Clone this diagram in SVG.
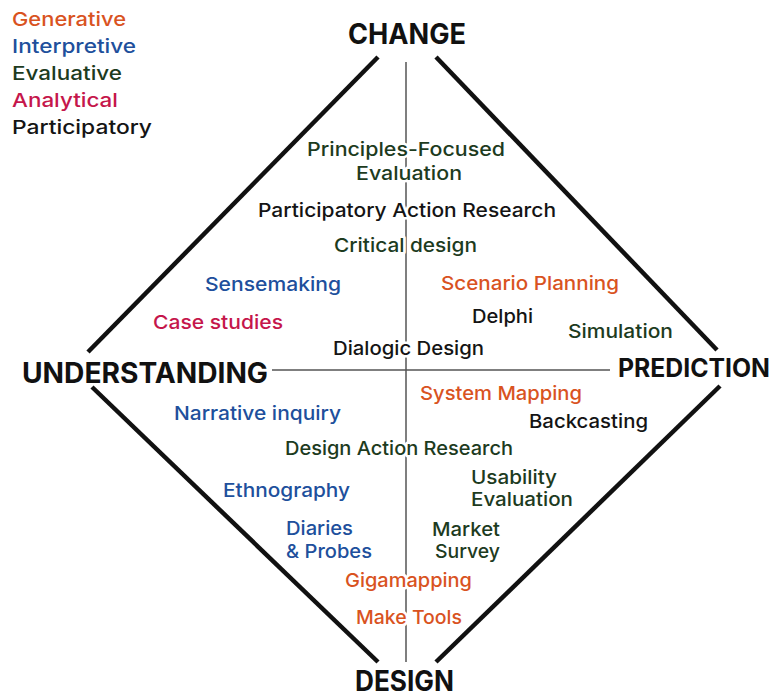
<svg xmlns="http://www.w3.org/2000/svg" width="779" height="699" viewBox="0 0 779 699">
<style>
text{font-family:Inter,"Liberation Sans",Arial,sans-serif;font-weight:500;font-size:19px}
.t{font-weight:700;font-size:28px;fill:#111}
.lab{stroke:#fff;stroke-width:5px;stroke-linejoin:round;paint-order:stroke}
.gen{fill:#d9531f}.int{fill:#204f9c}.eva{fill:#1d3b1e}.ana{fill:#c5164b}.par{fill:#141414}
.ax{stroke:#555;stroke-width:1.5;fill:none}
.dia{stroke:#111;stroke-width:4.5;fill:none;stroke-linecap:butt}
</style>
<rect width="779" height="699" fill="#fff"/>
<g id="connectors">
<line class="ax" x1="406" y1="62" x2="406" y2="662"/>
<line class="ax" x1="272" y1="370" x2="610" y2="370"/>
<line class="dia" x1="378" y1="57" x2="88" y2="352"/>
<line class="dia" x1="92" y1="387" x2="378" y2="662"/>
<line class="dia" x1="436" y1="57" x2="717" y2="350"/>
<line class="dia" x1="720" y1="386" x2="436" y2="662"/>
</g>
<g id="legend">
<text class="gen" x="12" y="26" textLength="114" lengthAdjust="spacingAndGlyphs">Generative</text>
<text class="int" x="12" y="53" textLength="124" lengthAdjust="spacingAndGlyphs">Interpretive</text>
<text class="eva" x="12" y="80" textLength="110" lengthAdjust="spacingAndGlyphs">Evaluative</text>
<text class="ana" x="12" y="107" textLength="106" lengthAdjust="spacingAndGlyphs">Analytical</text>
<text class="par" x="12" y="134" textLength="140" lengthAdjust="spacingAndGlyphs">Participatory</text>
</g>
<g id="change"><text class="t" x="348" y="44" textLength="118" lengthAdjust="spacingAndGlyphs">CHANGE</text></g>
<g id="understanding"><text class="t" x="22" y="383" textLength="246" lengthAdjust="spacingAndGlyphs">UNDERSTANDING</text></g>
<g id="prediction"><text class="t" x="618" y="377" style="font-size:25px" textLength="152" lengthAdjust="spacingAndGlyphs">PREDICTION</text></g>
<g id="design"><text class="t" x="355" y="691" textLength="99" lengthAdjust="spacingAndGlyphs">DESIGN</text></g>
<g id="principles-focused-evaluation">
<text class="lab eva" x="307" y="156" textLength="198" lengthAdjust="spacingAndGlyphs">Principles-Focused</text>
<text class="lab eva" x="356" y="180" textLength="106" lengthAdjust="spacingAndGlyphs">Evaluation</text>
</g>
<g id="participatory-action-research"><text class="lab par" x="258" y="217" textLength="298" lengthAdjust="spacingAndGlyphs">Participatory Action Research</text></g>
<g id="critical-design"><text class="lab eva" x="334" y="252" textLength="143" lengthAdjust="spacingAndGlyphs">Critical design</text></g>
<g id="sensemaking"><text class="int" x="205" y="291" textLength="136" lengthAdjust="spacingAndGlyphs">Sensemaking</text></g>
<g id="scenario-planning"><text class="gen" x="441" y="290" textLength="178" lengthAdjust="spacingAndGlyphs">Scenario Planning</text></g>
<g id="case-studies"><text class="ana" x="153" y="329" textLength="130" lengthAdjust="spacingAndGlyphs">Case studies</text></g>
<g id="delphi"><text class="par" x="472" y="323" textLength="61" lengthAdjust="spacingAndGlyphs">Delphi</text></g>
<g id="simulation"><text class="eva" x="568" y="338" textLength="105" lengthAdjust="spacingAndGlyphs">Simulation</text></g>
<g id="dialogic-design"><text class="lab par" x="333" y="355" textLength="151" lengthAdjust="spacingAndGlyphs">Dialogic Design</text></g>
<g id="system-mapping"><text class="gen" x="420" y="400" textLength="162" lengthAdjust="spacingAndGlyphs">System Mapping</text></g>
<g id="narrative-inquiry"><text class="int" x="174" y="420" textLength="167" lengthAdjust="spacingAndGlyphs">Narrative inquiry</text></g>
<g id="backcasting"><text class="par" x="529" y="428" textLength="119" lengthAdjust="spacingAndGlyphs">Backcasting</text></g>
<g id="design-action-research"><text class="lab eva" x="285" y="455" textLength="228" lengthAdjust="spacingAndGlyphs">Design Action Research</text></g>
<g id="usability-evaluation">
<text class="eva" x="471" y="484" textLength="86" lengthAdjust="spacingAndGlyphs">Usability</text>
<text class="eva" x="471" y="506" textLength="102" lengthAdjust="spacingAndGlyphs">Evaluation</text>
</g>
<g id="ethnography"><text class="int" x="223" y="497" textLength="127" lengthAdjust="spacingAndGlyphs">Ethnography</text></g>
<g id="diaries-probes">
<text class="int" x="286" y="535" textLength="67" lengthAdjust="spacingAndGlyphs">Diaries</text>
<text class="int" x="286" y="558" textLength="86" lengthAdjust="spacingAndGlyphs">&amp; Probes</text>
</g>
<g id="market-survey">
<text class="eva" x="432" y="536" textLength="68" lengthAdjust="spacingAndGlyphs">Market</text>
<text class="eva" x="435" y="558" textLength="65" lengthAdjust="spacingAndGlyphs">Survey</text>
</g>
<g id="gigamapping"><text class="lab gen" x="345" y="587" textLength="127" lengthAdjust="spacingAndGlyphs">Gigamapping</text></g>
<g id="make-tools"><text class="lab gen" x="356" y="624" textLength="106" lengthAdjust="spacingAndGlyphs">Make Tools</text></g>
</svg>
